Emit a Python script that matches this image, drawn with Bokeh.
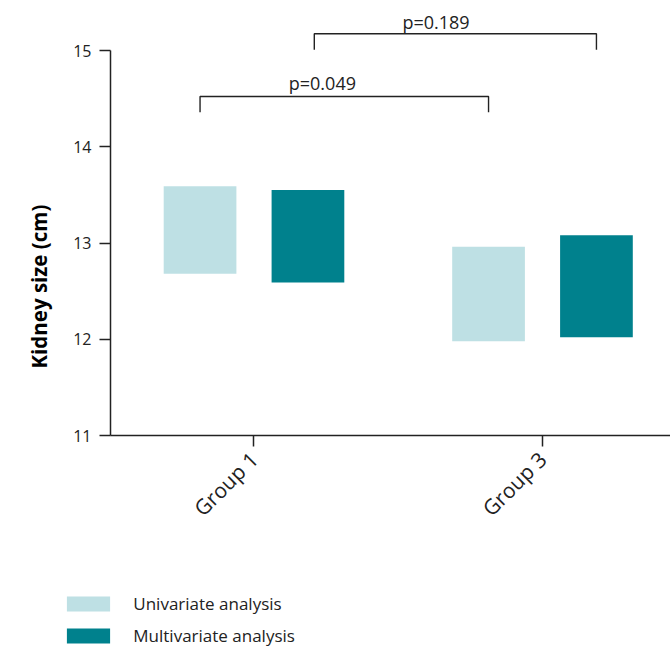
import numpy as np
from bokeh.plotting import figure
from bokeh.layouts import column
from bokeh.models import Range1d, FixedTicker, Label, Legend, LegendItem, Title
from bokeh.embed import file_html
from bokeh.resources import INLINE

# Kidney size ranges (cm) per group, as floating bars (low..high)
groups = ["Group 1", "Group 3"]
uni_low = [12.68, 11.98]
uni_high = [13.59, 12.96]
multi_low = [12.59, 12.02]
multi_high = [13.55, 13.08]
y_ticks = [11, 12, 13, 14, 15]
p_labels = ["p=0.049", "p=0.189"]
series_names = ["Univariate analysis", "Multivariate analysis"]

LIGHT = "#bee0e4"
DARK = "#00818d"
FONT = "Open Sans"
INK = "#222222"

xs = np.arange(len(groups)) + 1.0
offset = 0.187
bar_w = 0.252

p = figure(
    width=670, height=580,
    x_range=Range1d(0.5026, 2.4437), y_range=Range1d(11, 15.52),
    output_backend="svg", toolbar_location=None,
    min_border_left=110, min_border_right=0,
    min_border_top=0, min_border_bottom=145,
)
p.frame_align = False
p.outline_line_color = None
p.xgrid.visible = False
p.ygrid.visible = False

p.vbar(x=xs - offset, bottom=uni_low, top=uni_high, width=bar_w,
       fill_color=LIGHT, line_color=None)
p.vbar(x=xs + offset, bottom=multi_low, top=multi_high, width=bar_w,
       fill_color=DARK, line_color=None)

# significance brackets between bar centres
brackets = [
    (xs[0] - offset, xs[1] - offset, 14.522, 14.359),
    (xs[0] + offset + 0.022, xs[1] + offset, 15.174, 15.007),
]
for (x0, x1, ytop, ydrop) in brackets:
    p.line([x0, x0, x1, x1], [ydrop, ytop, ytop, ydrop],
           line_color=INK, line_width=1.4)

label_pos = [(1.237, 14.543), (1.631, 15.177)]
for txt, (lx, ly) in zip(p_labels, label_pos):
    p.add_layout(Label(x=lx, y=ly, text=txt, text_align="center",
                       text_baseline="bottom", text_font=FONT,
                       text_font_size="18px", text_color=INK))

# axes
p.yaxis.ticker = FixedTicker(ticks=y_ticks)
p.yaxis.bounds = (11, 15)
p.xaxis.ticker = FixedTicker(ticks=list(xs))
p.xaxis.major_label_overrides = {float(x): g for x, g in zip(xs, groups)}
p.xaxis.major_label_orientation = np.pi / 4
for ax in (p.xaxis, p.yaxis):
    ax.axis_line_color = INK
    ax.axis_line_width = 1.5
    ax.major_tick_line_color = INK
    ax.major_tick_line_width = 1.5
    ax.major_tick_in = 0
    ax.major_tick_out = 11
    ax.minor_tick_line_color = None
    ax.major_label_text_font = FONT
    ax.major_label_text_color = INK
p.yaxis.major_label_text_font_size = "16px"
p.yaxis.major_label_standoff = 8
p.xaxis.major_label_text_font_size = "21px"
p.xaxis.major_label_standoff = 9

# vertical axis title, placed in the left panel
p.add_layout(Title(text="Kidney size (cm)", align="left", offset=67,
                   standoff=36, text_font=FONT, text_font_style="bold",
                   text_font_size="20.5px", text_color="black"), "left")

# legend strip underneath the chart
leg = figure(width=670, height=67, x_range=Range1d(0, 1), y_range=Range1d(0, 1),
             output_backend="svg", toolbar_location=None,
             x_axis_location=None, y_axis_location=None, min_border=0)
leg.frame_align = False
leg.outline_line_color = None
leg.xgrid.visible = False
leg.ygrid.visible = False
swatches = [leg.vbar(x=[np.nan], top=[np.nan], width=0.1, fill_color=c, line_color=None)
            for c in (LIGHT, DARK)]
legend = Legend(
    items=[LegendItem(label=n, renderers=[r]) for n, r in zip(series_names, swatches)],
    location=(61.3, 0),
    glyph_width=54, glyph_height=19, label_standoff=18,
    label_height=19, spacing=9, padding=0, margin=0,
    border_line_color=None, background_fill_alpha=0,
    label_text_font=FONT, label_text_font_size="17px", label_text_color=INK,
)
leg.add_layout(legend)

layout = column(p, leg, spacing=0)
open("out.html", "w").write(file_html(layout, INLINE))
